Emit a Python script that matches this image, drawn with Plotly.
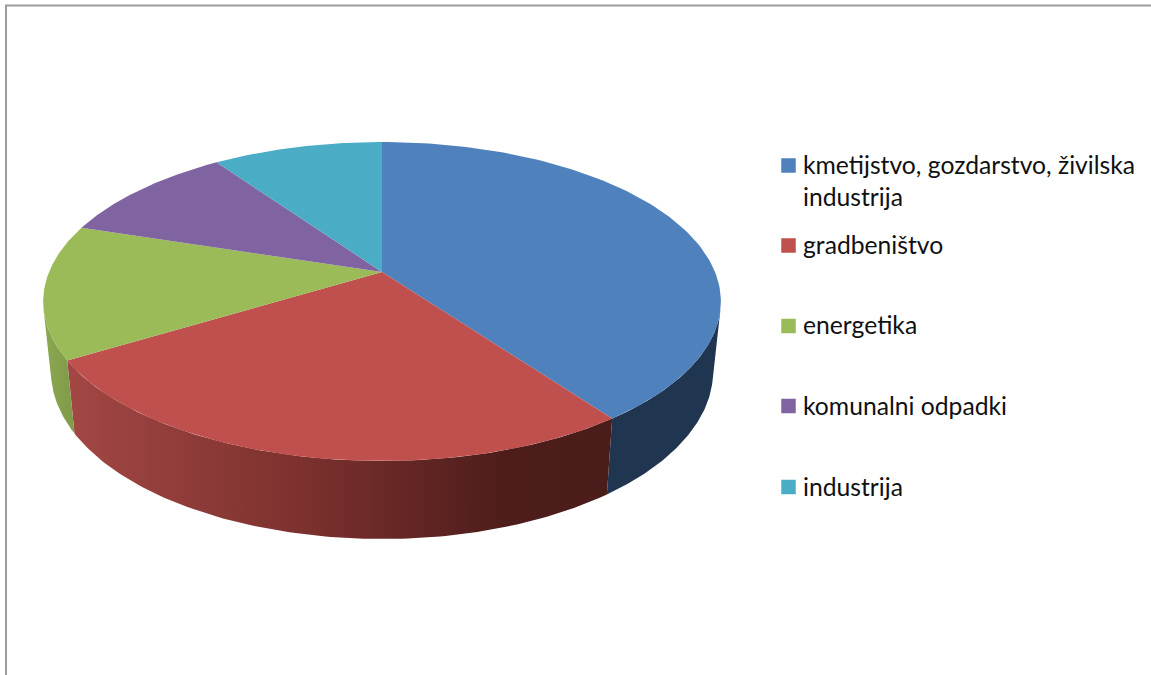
import math
import plotly.graph_objects as go

# ---- data ----
categories = ["kmetijstvo, gozdarstvo, živilska<br>industrija", "gradbeništvo", "energetika",
              "komunalni odpadki", "industrija"]
values = [40.0, 26.3, 13.6, 10.4, 9.7]

top_colors = ["#4F81BD", "#C0504D", "#9BBB59", "#8064A2", "#4BACC6"]
side_scales = [
    [[0, "#1F3550"], [1, "#1F3550"]],
    [[0, "#A34744"], [0.45, "#7A302D"], [0.8, "#4E1D1B"], [1, "#4A1C1A"]],
    [[0, "#8CA850"], [1, "#7F9A49"]],
    [[0, "#66508A"], [1, "#66508A"]],
    [[0, "#3C8A9E"], [1, "#3C8A9E"]],
]

# ---- layout of the key (page pixels) ----
KEY_MARKER_X = 788.5
KEY_TEXT_X = 801
KEY_MARKER_Y = [165.5, 245.5, 326, 406, 487]
KEY_TEXT_Y = [180.5, 244.5, 324.5, 405, 486]

# ---- projection of the disc (page pixels) ----
CX, APEX_Y = 382.0, 272.0
K, P, A = 0.185, -103.7, 333.0
SHRINK, REF_TOP, REF_BOT, DEPTH_SCALE = 0.977, 361.0, 434.0, 1.05


def top_pt(theta):
    sx, cy = math.sin(theta), math.cos(theta)
    w = 1 + K * cy
    return CX + A * sx / w, (APEX_Y + P * cy) / w


def bottom_pt(theta):
    x, y = top_pt(theta)
    return CX + (x - CX) * SHRINK, REF_BOT + (y - REF_TOP) * DEPTH_SCALE


def silhouette(lo, hi):
    """Angle between lo and hi where the wall edge runs along the rim's tangent."""
    def f(th):
        e = 1e-4
        ax, ay = top_pt(th - e)
        bx, by = top_pt(th + e)
        tx, ty = top_pt(th)
        ux, uy = bottom_pt(th)
        return (bx - ax) * (uy - ty) - (by - ay) * (ux - tx)
    flo = f(lo)
    for _ in range(60):
        mid = (lo + hi) / 2
        if f(mid) * flo > 0:
            lo = mid
        else:
            hi = mid
    return (lo + hi) / 2


def arc(fn, a0, a1, n=120):
    return [fn(a0 + (a1 - a0) * i / n) for i in range(n + 1)]


fig = go.Figure()
total = sum(values)
angles = [0.0]
for v in values:
    angles.append(angles[-1] + 2 * math.pi * v / total)

TH_R = silhouette(0.05, math.pi - 0.05)
TH_L = silhouette(math.pi + 0.05, 2 * math.pi - 0.05)

# side walls first (front part of the rim only), then the top faces over them
for i in range(len(values)):
    a0, a1 = max(angles[i], TH_R), min(angles[i + 1], TH_L)
    if a1 <= a0:
        continue
    t = arc(top_pt, a0, a1)
    b = arc(bottom_pt, a0, a1)
    pts = t + b[::-1]
    pts.append(pts[0])
    fig.add_trace(go.Scatter(
        x=[p[0] for p in pts], y=[p[1] for p in pts], mode="lines", line=dict(width=0),
        fill="toself",
        fillgradient=dict(type="horizontal", colorscale=side_scales[i]),
        showlegend=False, hoverinfo="skip"))

for i in range(len(values)):
    t = arc(top_pt, angles[i], angles[i + 1])
    pts = [(CX, APEX_Y)] + t + [(CX, APEX_Y)]
    fig.add_trace(go.Scatter(
        x=[p[0] for p in pts], y=[p[1] for p in pts], mode="lines", line=dict(width=0),
        fill="toself", fillcolor=top_colors[i], showlegend=False, hoverinfo="skip"))

# key: square markers plus their labels
fig.add_trace(go.Scatter(
    x=[KEY_MARKER_X] * len(categories), y=KEY_MARKER_Y, mode="markers",
    marker=dict(symbol="square", size=14.5, color=top_colors, line=dict(width=0)),
    showlegend=False, hoverinfo="skip"))

font = dict(family="Lato, Carlito, sans-serif", size=24.7, color="#111111")
W, H = 1151, 675
fig.update_layout(
    width=W, height=H, margin=dict(l=0, r=0, t=0, b=0),
    paper_bgcolor="white", plot_bgcolor="white", showlegend=False,
    xaxis=dict(range=[0, W], visible=False, fixedrange=True),
    yaxis=dict(range=[H, 0], visible=False, fixedrange=True),
    annotations=[
        dict(x=KEY_TEXT_X, y=KEY_TEXT_Y[i], xref="x", yref="y", text=name, showarrow=False,
             xanchor="left", yanchor="middle", align="left", font=font)
        for i, name in enumerate(categories)
    ],
    shapes=[
        dict(type="line", xref="x", yref="y", x0=6, x1=6, y0=5.5, y1=H, line=dict(color="#9C9C9C", width=2)),
        dict(type="line", xref="x", yref="y", x0=5, x1=W, y0=5.5, y1=5.5, line=dict(color="#9C9C9C", width=2)),
    ],
)

fig.write_html("out.html", config=dict(displayModeBar=False),
               post_script="document.body.style.margin='0';document.documentElement.style.overflow='hidden';")
